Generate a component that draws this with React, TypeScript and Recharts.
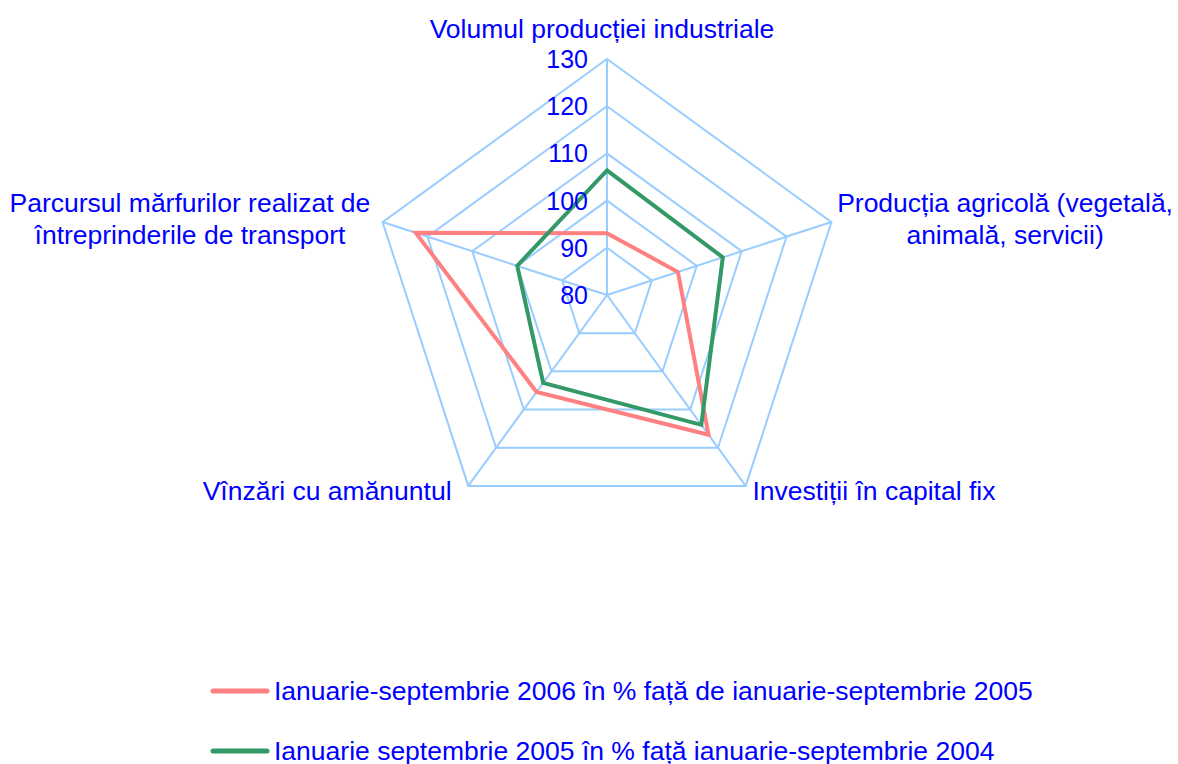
import { RadarChart, Radar, PolarGrid, PolarAngleAxis, PolarRadiusAxis, Legend } from "recharts";

const categories = [
  "Volumul producției industriale",
  "Producția agricolă (vegetală, animală, servicii)",
  "Investiții în capital fix",
  "Vînzări cu amănuntul",
  "Parcursul mărfurilor realizat de întreprinderile de transport",
];

// how the category names wrap on the chart
const categoryLines = [
  ["Volumul producției industriale"],
  ["Producția agricolă (vegetală,", "animală, servicii)"],
  ["Investiții în capital fix"],
  ["Vînzări cu amănuntul"],
  ["Parcursul mărfurilor realizat de", "întreprinderile de transport"],
];

const values2006 = [93.1, 95.8, 116.6, 105.4, 122.6];
const values2005 = [106.4, 105.8, 114.0, 103.0, 100.0];

const radiusTicks = [80, 90, 100, 110, 120, 130];

const seriesNames = [
  "Ianuarie-septembrie 2006 în % față de ianuarie-septembrie 2005",
  "Ianuarie septembrie 2005 în % față ianuarie-septembrie 2004",
];

const data = categories.map((c, i) => ({
  category: c,
  a: values2006[i],
  b: values2005[i],
}));

const FONT = "'Liberation Sans', Arial, sans-serif";
const BLUE = "#0000FF";
const GRID = "#99CCFF";

// label placement relative to recharts' tick point
const labelPlace = [
  { anchor: "middle", dx: -5, dy: -13 },
  { anchor: "middle", dx: 166, dy: -8 },
  { anchor: "start", dx: 2, dy: 8 },
  { anchor: "end", dx: -12, dy: 8 },
  { anchor: "middle", dx: -185, dy: -8 },
];

function AngleTick(props: any) {
  const { x, y, index } = props;
  const place = labelPlace[index] || { anchor: "middle", dx: 0, dy: 0 };
  const lines = categoryLines[index] || [props.payload.value];
  return (
    <text
      x={x + place.dx}
      y={y + place.dy}
      textAnchor={place.anchor}
      fill={BLUE}
      fontSize={26.5}
      fontFamily={FONT}
    >
      {lines.map((l: string, i: number) => (
        <tspan key={i} x={x + place.dx} dy={i === 0 ? 0 : 32}>
          {l}
        </tspan>
      ))}
    </text>
  );
}

function RadiusTick(props: any) {
  const { x, y, payload } = props;
  return (
    <text
      x={x - 19}
      y={y}
      textAnchor="end"
      dominantBaseline="central"
      fill={BLUE}
      fontSize={25}
      fontFamily={FONT}
    >
      {payload.value}
    </text>
  );
}

function LegendContent(props: any) {
  const items = [...(props.payload || [])].sort(
    (p: any, q: any) => seriesNames.indexOf(p.value) - seriesNames.indexOf(q.value)
  );
  return (
    <div style={{ fontFamily: FONT, fontSize: 26.5, color: BLUE }}>
      {items.map((it: any, i: number) => (
        <div key={i} style={{ display: "flex", alignItems: "center", height: 60, whiteSpace: "nowrap" }}>
          <svg width={64} height={10}>
            <line x1={3} y1={5} x2={57} y2={5} stroke={it.color} strokeWidth={5} strokeLinecap="round" />
          </svg>
          <span>{it.value}</span>
        </div>
      ))}
    </div>
  );
}

export default function App() {
  return (
    <div style={{ position: "absolute", left: 0, top: 0, background: "#fff" }}>
      <RadarChart
        width={1178}
        height={764}
        data={data}
        cx={607}
        cy={295}
        outerRadius={236}
        margin={{ top: 0, right: 0, bottom: 0, left: 0 }}
      >
        <PolarGrid gridType="polygon" stroke={GRID} strokeWidth={2} />
        <PolarAngleAxis dataKey="category" tick={<AngleTick />} tickLine={false} axisLine={false} />
        <PolarRadiusAxis
          angle={90}
          domain={[80, 130]}
          ticks={radiusTicks}
          tick={<RadiusTick />}
          axisLine={false}
          tickLine={false}
        />
        <Radar
          name={seriesNames[0]}
          dataKey="a"
          stroke="#FF8080"
          strokeWidth={4}
          fill="none"
          fillOpacity={0}
          dot={false}
          isAnimationActive={false}
        />
        <Radar
          name={seriesNames[1]}
          dataKey="b"
          stroke="#339966"
          strokeWidth={4}
          fill="none"
          fillOpacity={0}
          dot={false}
          isAnimationActive={false}
        />
        <Legend
          content={<LegendContent />}
          wrapperStyle={{ position: "absolute", left: 210, top: 661, width: "auto", bottom: "auto" }}
        />
      </RadarChart>
    </div>
  );
}
